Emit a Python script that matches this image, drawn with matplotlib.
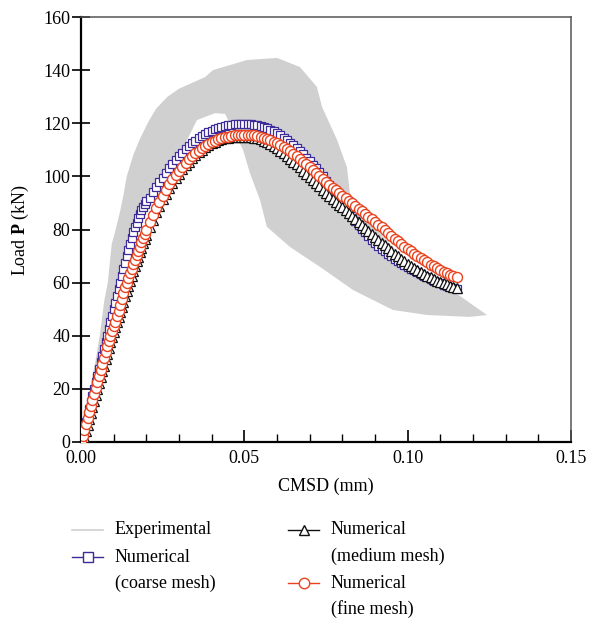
import numpy as np
import matplotlib.pyplot as plt
from matplotlib.lines import Line2D
from matplotlib.ticker import MultipleLocator

plt.rcParams['font.family'] = ['Liberation Serif', 'DejaVu Serif']
plt.rcParams['mathtext.fontset'] = 'custom'
plt.rcParams['mathtext.rm'] = 'Liberation Serif'
plt.rcParams['mathtext.bf'] = 'Liberation Serif:bold'

# ── Data ─────────────────────────────────────────────────────────────────
cmsd = [0.0, 0.0005, 0.001, 0.0015, 0.002, 0.0025, 0.003, 0.0035, 0.004, 0.0045,
        0.005, 0.0055, 0.006, 0.0065, 0.007, 0.0075, 0.008, 0.0085, 0.009, 0.0095,
        0.010, 0.0105, 0.011, 0.0115, 0.012, 0.0125, 0.013, 0.0135, 0.014, 0.0145,
        0.015, 0.0155, 0.016, 0.0165, 0.017, 0.0175, 0.018, 0.0185, 0.019, 0.0195,
        0.020, 0.021, 0.022, 0.023, 0.024, 0.025, 0.026, 0.027, 0.028, 0.029,
        0.030, 0.031, 0.032, 0.033, 0.034, 0.035, 0.036, 0.037, 0.038, 0.039,
        0.040, 0.041, 0.042, 0.043, 0.044, 0.045, 0.046, 0.047, 0.048, 0.049,
        0.050, 0.051, 0.052, 0.053, 0.054, 0.055, 0.056, 0.057, 0.058, 0.059,
        0.060, 0.061, 0.062, 0.063, 0.064, 0.065, 0.066, 0.067, 0.068, 0.069,
        0.070, 0.071, 0.072, 0.073, 0.074, 0.075, 0.076, 0.077, 0.078, 0.079,
        0.080, 0.081, 0.082, 0.083, 0.084, 0.085, 0.086, 0.087, 0.088, 0.089,
        0.090, 0.091, 0.092, 0.093, 0.094, 0.095, 0.096, 0.097, 0.098, 0.099,
        0.100, 0.101, 0.102, 0.103, 0.104, 0.105, 0.106, 0.107, 0.108, 0.109,
        0.110, 0.111, 0.112, 0.113, 0.114, 0.115]

load_coarse = [0.0, 2.5, 5.0, 7.5, 10.0, 12.5, 15.0, 17.5, 20.0, 22.5,
               25.0, 27.5, 30.0, 32.5, 35.0, 37.5, 40.0, 42.5, 45.0, 47.5,
               50.0, 52.5, 55.0, 57.5, 60.0, 62.5, 65.0, 67.5, 70.0, 72.3,
               74.5, 76.8, 79.0, 80.8, 82.6, 84.2, 85.8, 87.2, 88.5, 89.7,
               90.9, 92.0, 94.0, 96.0, 97.8, 99.5, 101.2, 103.0, 104.6, 106.1,
               107.6, 108.9, 110.2, 111.4, 112.5, 113.5, 114.4, 115.2, 116.0, 116.6,
               117.2, 117.7, 118.2, 118.6, 118.9, 119.2, 119.4, 119.6, 119.7, 119.8,
               119.8, 119.8, 119.7, 119.5, 119.3, 119.0, 118.6, 118.1, 117.6, 117.0,
               116.3, 115.5, 114.6, 113.7, 112.7, 111.7, 110.6, 109.5, 108.3, 107.1,
               105.8, 104.4, 103.0, 101.5, 100.0, 98.4, 96.8, 95.1, 93.4, 91.7,
               90.0, 88.3, 86.6, 84.9, 83.3, 81.8, 80.3, 78.9, 77.5, 76.2,
               75.0, 73.9, 72.8, 71.8, 70.8, 69.9, 69.0, 68.2, 67.4, 66.7,
               66.0, 65.3, 64.6, 63.9, 63.3, 62.6, 62.0, 61.4, 60.8, 60.2,
               59.7, 59.2, 58.7, 58.3, 57.9, 57.5]

load_medium = [np.nan, 0.0, 1.8, 4.1, 6.3, 8.6, 10.8, 13.1, 15.3, 17.6,
               19.8, 22.1, 24.3, 26.6, 28.8, 31.1, 33.3, 35.4, 37.6, 39.5,
               41.4, 43.2, 45.0, 46.9, 48.8, 50.8, 52.8, 54.9, 56.9, 58.9,
               60.8, 62.6, 64.4, 66.2, 68.0, 69.7, 71.4, 73.1, 74.8, 76.4,
               78.0, 80.9, 83.7, 86.4, 88.9, 91.3, 93.5, 95.6, 97.5, 99.3,
               101.0, 102.6, 104.1, 105.5, 106.8, 108.0, 109.1, 110.1, 111.0, 111.8,
               112.5, 113.1, 113.6, 114.0, 114.3, 114.6, 114.8, 114.9, 115.0, 115.0,
               115.0, 114.9, 114.8, 114.6, 114.3, 113.9, 113.4, 112.8, 112.1, 111.3,
               110.5, 109.6, 108.7, 107.7, 106.7, 105.6, 104.5, 103.4, 102.2, 101.0,
               99.8, 98.6, 97.4, 96.2, 95.0, 93.8, 92.7, 91.6, 90.5, 89.4,
               88.3, 87.2, 86.1, 85.0, 83.9, 82.8, 81.7, 80.6, 79.5, 78.4,
               77.3, 76.2, 75.1, 74.0, 72.9, 71.9, 70.9, 69.9, 68.9, 68.0,
               67.1, 66.3, 65.5, 64.7, 64.0, 63.3, 62.6, 62.0, 61.4, 60.8,
               60.3, 59.8, 59.3, 58.9, 58.5, 58.1]

load_fine = [0.0, 2.2, 4.5, 6.8, 9.0, 11.3, 13.5, 15.8, 18.0, 20.3,
             22.5, 24.8, 27.0, 29.3, 31.5, 33.8, 36.0, 38.0, 40.0, 41.8,
             43.5, 45.3, 47.5, 49.5, 51.5, 53.8, 56.2, 58.2, 60.0, 61.8,
             63.5, 65.2, 67.0, 68.7, 70.4, 72.0, 73.6, 75.2, 76.8, 78.3,
             79.8, 82.7, 85.3, 88.0, 90.5, 92.8, 95.0, 97.0, 98.9, 100.6,
             102.2, 103.7, 105.1, 106.4, 107.6, 108.7, 109.7, 110.6, 111.4, 112.1,
             112.8, 113.4, 113.9, 114.3, 114.7, 115.0, 115.2, 115.4, 115.5, 115.6,
             115.7, 115.7, 115.6, 115.5, 115.3, 115.0, 114.6, 114.1, 113.6, 113.0,
             112.4, 111.7, 111.0, 110.2, 109.4, 108.5, 107.6, 106.6, 105.6, 104.5,
             103.4, 102.3, 101.2, 100.1, 99.0, 97.9, 96.8, 95.8, 94.8, 93.8,
             92.8, 91.8, 90.8, 89.8, 88.8, 87.8, 86.8, 85.8, 84.8, 83.8,
             82.8, 81.8, 80.8, 79.8, 78.8, 77.7, 76.6, 75.6, 74.6, 73.6,
             72.7, 71.8, 70.9, 70.0, 69.2, 68.4, 67.6, 66.8, 66.1, 65.4,
             64.7, 64.1, 63.5, 63.0, 62.5, 62.1]

# experimental scatter band: outer edge (origin -> tip), inner edge (tip -> origin)
exp_outer_x = [0.0, 0.0025, 0.0045, 0.0058, 0.0071, 0.0082, 0.0087, 0.0094, 0.0102,
               0.012, 0.013, 0.014, 0.016, 0.018, 0.0206, 0.023, 0.0265, 0.030,
               0.034, 0.038, 0.0404, 0.0508, 0.060, 0.067, 0.0722, 0.0738, 0.0784,
               0.0814, 0.0823, 0.088, 0.095, 0.103, 0.110, 0.116, 0.120, 0.1243]
exp_outer_y = [0.0, 18.0, 31.0, 40.5, 53.0, 60.0, 66.0, 74.5, 78.0,
               87.0, 93.0, 100.0, 108.0, 114.0, 120.5, 125.5, 130.0, 133.0,
               135.2, 137.4, 140.0, 143.8, 144.6, 141.2, 133.7, 126.1, 113.7,
               103.5, 93.7, 83.0, 74.0, 65.0, 59.0, 55.0, 51.5, 47.8]
exp_inner_x = [0.119, 0.106, 0.0955, 0.0833, 0.0732, 0.064, 0.0569, 0.0548, 0.0533,
               0.0517, 0.0496, 0.0441, 0.041, 0.0355, 0.0318, 0.025, 0.020, 0.014,
               0.008, 0.003]
exp_inner_y = [47.1, 47.8, 49.7, 57.2, 65.9, 73.4, 81.0, 91.1, 96.0,
               101.3, 110.0, 123.5, 123.8, 121.2, 112.0, 98.0, 89.0, 68.0,
               38.0, 13.0]

GREY = '#D0D0D0'
BLUE = '#3D2B9A'
RED = '#E8421E'
BLACK = '#111111'

fig = plt.figure(figsize=(5.9, 6.22), dpi=100)
ax = fig.add_axes([81 / 590, 1 - 442 / 622, 490 / 590, 425 / 622])

# ── Experimental band ────────────────────────────────────────────────────
ax.fill(exp_outer_x + exp_inner_x, exp_outer_y + exp_inner_y,
        color=GREY, lw=0, zorder=1)

# ── Numerical curves ─────────────────────────────────────────────────────
ax.plot(cmsd, load_coarse, color=BLUE, lw=0.8, marker='s', ms=6,
        mfc='white', mec=BLUE, mew=0.9, zorder=2)
ax.plot(cmsd, load_medium, color=BLACK, lw=0.8, marker='^', ms=6.5,
        mfc='white', mec=BLACK, mew=0.9, zorder=3)
ax.plot(cmsd, load_fine, color=RED, lw=0.8, marker='o', ms=7.2,
        mfc='white', mec=RED, mew=1.0, zorder=4)

ax.set_xlim(0, 0.15)
ax.set_ylim(0, 160)
ax.set_xticks([0.0, 0.05, 0.10, 0.15])
ax.set_xticklabels(['0.00', '0.05', '0.10', '0.15'])
ax.xaxis.set_minor_locator(MultipleLocator(0.01))
ax.set_yticks(np.arange(0, 161, 20))

ax.tick_params(axis='x', which='major', direction='in', length=8.5, width=1.2,
               pad=6, labelsize=13, top=False)
ax.tick_params(axis='x', which='minor', direction='in', length=5.5, width=1.0,
               top=False)
ax.tick_params(axis='y', which='major', direction='inout', length=13, width=1.2,
               pad=1, labelsize=13, right=False)

for side in ('left', 'bottom'):
    ax.spines[side].set_linewidth(1.6)
    ax.spines[side].set_color('black')
for side in ('top', 'right'):
    ax.spines[side].set_linewidth(1.1)
    ax.spines[side].set_color('#555555')

ax.set_xlabel('CMSD (mm)', fontsize=13)
ax.set_ylabel(r'Load $\mathbf{P}$ (kN)', fontsize=13)
ax.xaxis.set_label_coords(0.5, -0.085)
ax.yaxis.set_label_coords(-0.103, 0.5)

# ── Legend (drawn by hand, handle aligned with first text line) ──────────
def legend_entry(x0, y, lines, color, marker=None, ms=6, lw=1.0):
    xs = np.array([x0, x0 + 15.5, x0 + 31]) / 590
    yy = 1 - y / 622
    kw = dict(color=color, lw=lw, transform=fig.transFigure)
    if marker:
        kw.update(marker=marker, markevery=[1], ms=ms, mfc='white',
                  mec=color, mew=1.0)
    fig.add_artist(Line2D(xs, [yy] * 3, **kw))
    for i, t in enumerate(lines):
        fig.text((x0 + 43) / 590, 1 - (y + i * 26.5) / 622, t,
                 fontsize=13, ha='left', va='center')

legend_entry(72, 530, ['Experimental'], GREY, lw=1.2)
legend_entry(72, 557, ['Numerical', '(coarse mesh)'], BLUE, 's', ms=7)
legend_entry(288, 530, ['Numerical', '(medium mesh)'], BLACK, '^', ms=7.5)
legend_entry(288, 583, ['Numerical', '(fine mesh)'], RED, 'o', ms=7.5)

fig.savefig('out.png', dpi=100)
